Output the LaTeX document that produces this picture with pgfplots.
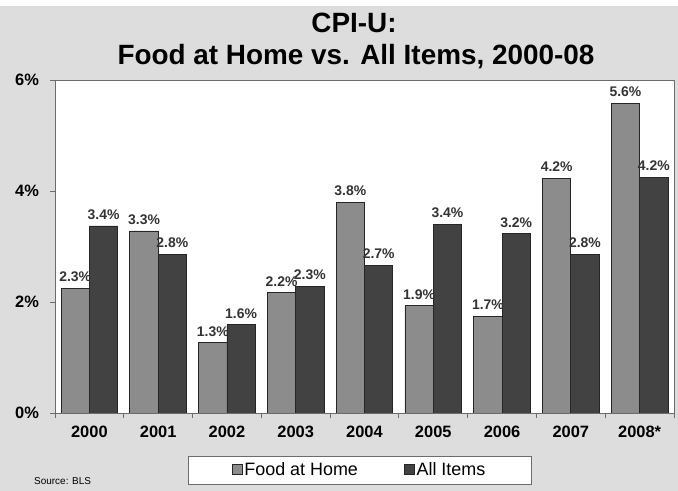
\documentclass[border=0pt]{standalone}
\usepackage{pgfplots}
\pgfplotsset{compat=1.18}
\usepackage{fontspec}
\setmainfont{Liberation Sans}
\definecolor{bg}{HTML}{DDDDDD}
\definecolor{food}{HTML}{8C8C8C}
\definecolor{allitems}{HTML}{424242}
\definecolor{lbl}{HTML}{333333}
\begin{document}
\begin{tikzpicture}
\useasboundingbox (0bp,0bp) rectangle (678bp,491bp);
\fill[white] (0bp,0bp) rectangle (678bp,491bp);
\fill[bg] (0bp,0bp) rectangle (678bp,485bp);
\node[font=\bfseries\fontsize{28}{28}\selectfont, anchor=base, inner sep=0] at (354bp,458bp) {CPI-U:};
\node[font=\bfseries\fontsize{28}{28}\selectfont, anchor=base, inner sep=0] at (356bp,426bp) {Food at Home vs. All Items, 2000-08};
\node[font=\fontsize{10}{10}\selectfont, anchor=base west, inner sep=0] at (34bp,7bp) {Source: BLS};
\begin{axis}[
  at={(55bp,78bp)}, anchor=south west, scale only axis,
  width=619bp, height=333bp,
  xmin=-0.5, xmax=8.5, ymin=0, ymax=6,
  ybar=0pt, bar width=28.3bp,
  axis background/.style={fill=white},
  axis line style={draw=gray!85!black, line width=1bp},
  tick align=outside,
  xtick pos=left, ytick pos=left,
  tick style={draw=gray!85!black, line width=0.8bp},
  xtick={-0.5,0.5,1.5,2.5,3.5,4.5,5.5,6.5,7.5,8.5},
  xticklabels={},
  extra x ticks={0,1,2,3,4,5,6,7,8},
  extra x tick labels={2000,2001,2002,2003,2004,2005,2006,2007,2008*},
  extra x tick style={major tick length=0pt},
  ytick={0,2,4,6},
  yticklabels={0\%,2\%,4\%,6\%},
  major tick length=4.5bp,
  xticklabel style={font=\bfseries\fontsize{16.5}{16.5}\selectfont, text=black, yshift=-10bp},
  yticklabel style={font=\bfseries\fontsize{16.5}{16.5}\selectfont, text=black, xshift=-8bp},
  point meta=explicit,
  nodes near coords={\pgfmathprintnumber[fixed,fixed zerofill,precision=1,assume math mode=true]{\pgfplotspointmeta}\%},
  every node near coord/.append style={font=\bfseries\fontsize{14}{14}\selectfont, text=lbl, anchor=base, yshift=6.5bp},
  legend columns=2,
  legend style={at={(0.492,-0.171)}, anchor=center, draw=gray!85!black, fill=white,
    font=\fontsize{18}{18}\selectfont, inner xsep=44bp, inner ysep=5bp,
    /tikz/every even column/.append style={column sep=44bp}},
]
\addplot[fill=food, draw=black!85, line width=0.8bp,
  legend image code/.code={\draw[fill=food,draw=black!85,line width=0.6bp] (-3bp,-4.5bp) rectangle (7bp,5.5bp);}]
  coordinates {(0,2.25) [2.3] (1,3.28) [3.3] (2,1.27) [1.3] (3,2.17) [2.2] (4,3.80) [3.8]
               (5,1.93) [1.9] (6,1.74) [1.7] (7,4.23) [4.2] (8,5.58) [5.6]};
\addlegendentry{Food at Home}
\addplot[fill=allitems, draw=black!85, line width=0.8bp,
  legend image code/.code={\draw[fill=allitems,draw=black!85,line width=0.6bp] (-3bp,-4.5bp) rectangle (7bp,5.5bp);}]
  coordinates {(0,3.37) [3.4] (1,2.86) [2.8] (2,1.59) [1.6] (3,2.28) [2.3] (4,2.66) [2.7]
               (5,3.40) [3.4] (6,3.23) [3.2] (7,2.86) [2.8] (8,4.25) [4.2]};
\addlegendentry{All Items}
\end{axis}
\end{tikzpicture}
\end{document}
